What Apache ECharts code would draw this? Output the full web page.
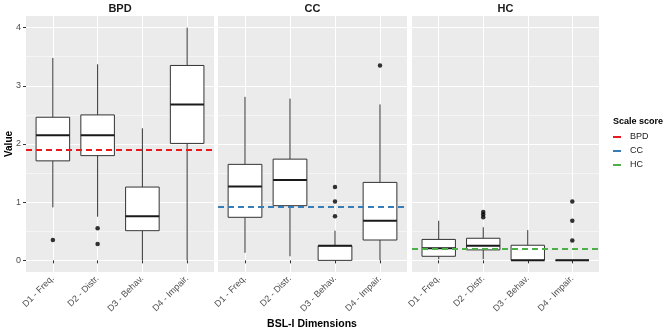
<!DOCTYPE html>
<html>
<head>
<meta charset="utf-8">
<script src="https://cdn.jsdelivr.net/npm/echarts@6/dist/echarts.min.js"></script>
<style>
  html, body { margin: 0; padding: 0; background: #fff; }
  #chart { width: 669px; height: 334px; }
</style>
</head>
<body>
<div id="chart"></div>
<script>
// categories and panels
const dimensions = ["D1 - Freq.", "D2 - Distr.", "D3 - Behav.", "D4 - Impair."];
const groups = ["BPD", "CC", "HC"];
const groupColors = ["#E41A1C", "#377EB8", "#4DAF4A"];

// boxes: [min, Q1, median, Q3, max] per dimension
const bpdBoxes = [[0.91, 1.71, 2.15, 2.46, 3.48], [0.75, 1.80, 2.15, 2.50, 3.37], [0, 0.51, 0.76, 1.26, 2.27], [0, 2.01, 2.68, 3.35, 4.0]];
const ccBoxes = [[0.13, 0.74, 1.27, 1.65, 2.81], [0.07, 0.94, 1.38, 1.74, 2.78], [0, 0, 0.25, 0.25, 0.51], [0, 0.35, 0.68, 1.34, 2.68]];
const hcBoxes = [[0.02, 0.07, 0.21, 0.36, 0.68], [0.02, 0.18, 0.25, 0.38, 0.57], [0, 0, 0, 0.26, 0.52], [0, 0, 0, 0, 0]];

// outliers: [dimension number, value]
const bpdOutliers = [[1, 0.35], [2, 0.55], [2, 0.28]];
const ccOutliers = [[3, 1.26], [3, 1.01], [3, 0.76], [4, 3.35]];
const hcOutliers = [[2, 0.83], [2, 0.79], [2, 0.74], [4, 1.01], [4, 0.68], [4, 0.34]];

// scale score means (dashed lines)
const means = [1.9, 0.93, 0.2];

const yMajor = [0, 1, 2, 3, 4];
const yMinor = [0.5, 1.5, 2.5, 3.5];
const xTicks = [1, 2, 3, 4];

const boxes = [bpdBoxes, ccBoxes, hcBoxes];
const outliers = [bpdOutliers, ccOutliers, hcOutliers];
const panels = [{ left: 26, width: 188 }, { left: 218, width: 189 }, { left: 412, width: 187 }];

const FONT = "Liberation Sans, Arial, sans-serif";

function renderBox(params, api) {
    const x = api.value(0);
    const lo = api.coord([x, api.value(1)]);
    const q1 = api.coord([x, api.value(2)]);
    const md = api.coord([x, api.value(3)]);
    const q3 = api.coord([x, api.value(4)]);
    const hi = api.coord([x, api.value(5)]);
    const w = api.size([0.75, 0])[0];
    const cx = lo[0];
    const line = { stroke: "#333", lineWidth: 1 };
    return {
        type: "group",
        children: [
            { type: "line", shape: { x1: cx, y1: hi[1], x2: cx, y2: q3[1] }, style: line },
            { type: "line", shape: { x1: cx, y1: q1[1], x2: cx, y2: lo[1] }, style: line },
            { type: "rect", shape: { x: cx - w / 2, y: q3[1], width: w, height: q1[1] - q3[1] }, style: { fill: "#fff", stroke: "#333", lineWidth: 1 } },
            { type: "line", shape: { x1: cx - w / 2, y1: md[1], x2: cx + w / 2, y2: md[1] }, style: { stroke: "#1a1a1a", lineWidth: 2 } },
        ],
    };
}

const grids = [], xAxes = [], yAxes = [], series = [], graphics = [];

panels.forEach((p, i) => {
    grids.push({ left: p.left, width: p.width, top: 16, height: 256, show: true, backgroundColor: "#EBEBEB", borderWidth: 0 });

    xAxes.push({
        type: "value", gridIndex: i, min: 0.4, max: 4.6,
        axisLine: { show: false },
        axisTick: { show: true, length: 3, customValues: xTicks, lineStyle: { color: "#333" } },
        axisLabel: {
            customValues: xTicks, rotate: 45, margin: 5,
            formatter: v => dimensions[v - 1],
            color: "#4D4D4D", fontSize: 9, fontFamily: FONT,
        },
        splitLine: { show: true, lineStyle: { color: "#fff", width: 1.1 } },
    });

    // major y axis
    yAxes.push({
        type: "value", gridIndex: i, min: -0.2, max: 4.2,
        axisLine: { show: false },
        axisTick: { show: i === 0, length: 3, customValues: yMajor, lineStyle: { color: "#333" } },
        axisLabel: { show: i === 0, customValues: yMajor, margin: 5, color: "#4D4D4D", fontSize: 9, fontFamily: FONT },
        splitLine: { show: true, lineStyle: { color: "#fff", width: 1.1 } },
    });
    // minor grid lines
    yAxes.push({
        type: "value", gridIndex: i, min: -0.2, max: 4.2,
        axisLine: { show: false },
        axisTick: { show: false, customValues: yMinor },
        axisLabel: { show: false, customValues: yMinor },
        splitLine: { show: true, lineStyle: { color: "#fff", width: 0.5 } },
    });

    series.push({
        type: "custom", xAxisIndex: i, yAxisIndex: i * 2, z: 2,
        renderItem: renderBox,
        encode: { x: 0, y: [1, 2, 3, 4, 5] },
        data: boxes[i].map((b, k) => [k + 1, ...b]),
    });

    series.push({
        type: "scatter", xAxisIndex: i, yAxisIndex: i * 2, z: 5,
        symbolSize: 4.5, itemStyle: { color: "#000" },
        data: outliers[i],
    });

    series.push({
        type: "line", name: groups[i], xAxisIndex: i, yAxisIndex: i * 2, z: 4,
        color: groupColors[i], data: [],
        markLine: {
            silent: true, symbol: "none", label: { show: false },
            lineStyle: { color: groupColors[i], type: [6, 4], width: 2 },
            data: [{ yAxis: means[i] }],
        },
    });

    graphics.push({
        type: "text", x: p.left + p.width / 2, y: 9,
        style: { text: groups[i], textAlign: "center", textVerticalAlign: "middle", font: "bold 11px " + FONT, fill: "#1a1a1a" },
    });
});

graphics.push({
    type: "text", x: 312, y: 324,
    style: { text: "BSL-I Dimensions", textAlign: "center", textVerticalAlign: "middle", font: "bold 10.5px " + FONT, fill: "#000" },
});
graphics.push({
    type: "text", x: 9, y: 144, rotation: Math.PI / 2,
    style: { text: "Value", textAlign: "center", textVerticalAlign: "middle", font: "bold 10px " + FONT, fill: "#000" },
});
graphics.push({
    type: "text", x: 613, y: 122,
    style: { text: "Scale score", textAlign: "left", textVerticalAlign: "middle", font: "bold 9px " + FONT, fill: "#000" },
});

const chart = echarts.init(document.getElementById("chart"));
chart.setOption({
    animation: false,
    grid: grids,
    xAxis: xAxes,
    yAxis: yAxes,
    series,
    graphic: graphics,
    legend: {
        orient: "vertical", left: 613, top: 132, padding: 0,
        icon: "rect", itemWidth: 8, itemHeight: 2, itemGap: 4,
        data: groups,
        textStyle: { fontSize: 9, fontFamily: FONT, color: "#1a1a1a", padding: [0, 0, 0, 4], lineHeight: 10 },
        selectedMode: false,
    },
});
</script>
</body>
</html>
